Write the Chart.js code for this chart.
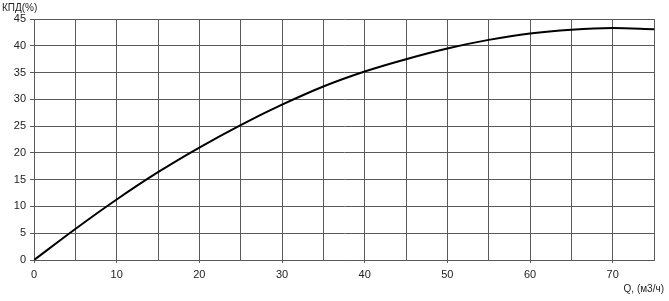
<!DOCTYPE html>
<html>
<head>
<meta charset="utf-8">
<script src="https://cdn.jsdelivr.net/npm/chart.js@4/dist/chart.umd.min.js"></script>
<style>
  html, body { margin: 0; padding: 0; background: #fff; }
  #wrap { width: 669px; height: 301px; }
</style>
</head>
<body>
<div id="wrap"><canvas id="chart"></canvas></div>
<script>
// flow, m3/h
const flow = [0, 5, 10, 15, 20, 25, 30, 35, 40, 45, 50, 55, 60, 65, 70, 75];
// efficiency, %
const efficiency = [0, 5.8, 11.3, 16.4, 21.0, 25.2, 29.0, 32.4, 35.2, 37.5, 39.5, 41.1, 42.3, 43.0, 43.3, 43.1];
const xTitle = 'Q, (м3/ч)';
const yTitle = 'КПД(%)';

const font = { family: 'Arial, "Liberation Sans", sans-serif', size: 11 };
const gridColor = '#5a5a5a';

// axis captions sit outside the plot, so draw them by hand
const captions = {
  id: 'captions',
  afterDraw(chart) {
    const c = chart.ctx;
    c.save();
    c.fillStyle = '#222';
    c.font = '10px Arial, "Liberation Sans", sans-serif';
    c.textBaseline = 'middle';
    c.textAlign = 'left';
    c.fillText(yTitle, 2, 8);
    c.textAlign = 'right';
    c.fillText(xTitle, 664, 289);
    c.restore();
  }
};

new Chart(document.getElementById('chart'), {
  type: 'line',
  data: {
    labels: flow,
    datasets: [{
      data: flow.map((q, i) => ({ x: q, y: efficiency[i] })),
      borderColor: '#000',
      borderWidth: 2,
      pointRadius: 0,
      cubicInterpolationMode: 'monotone',
      fill: false
    }]
  },
  options: {
    responsive: true,
    maintainAspectRatio: false,
    animation: false,
    layout: { padding: { left: 0, right: 15, top: 19, bottom: 0 } },
    plugins: { legend: { display: false }, tooltip: { enabled: false } },
    scales: {
      x: {
        type: 'linear',
        min: 0,
        max: 75,
        afterFit(s) { s.height = 41; },
        ticks: {
          stepSize: 5,
          autoSkip: false,
          maxRotation: 0,
          padding: 5,
          color: '#222',
          font: font,
          callback: v => (v % 10 === 0 ? v : '')
        },
        grid: {
          color: gridColor,
          lineWidth: 1,
          tickLength: 3,
          tickColor: ctx => (ctx.tick && ctx.tick.value % 10 === 0 ? gridColor : 'rgba(0,0,0,0)')
        },
        border: { color: gridColor, width: 1 }
      },
      y: {
        min: 0,
        max: 45,
        afterFit(s) { s.width = 34; },
        ticks: {
          stepSize: 5,
          padding: 4,
          color: '#222',
          font: font
        },
        grid: {
          color: gridColor,
          lineWidth: 1,
          tickLength: 4
        },
        border: { color: gridColor, width: 1 }
      }
    }
  },
  plugins: [captions]
});
</script>
</body>
</html>
